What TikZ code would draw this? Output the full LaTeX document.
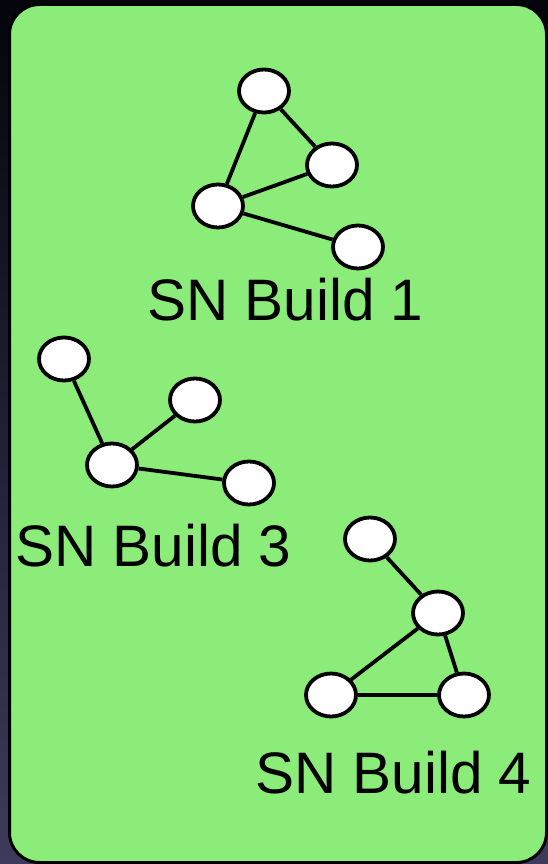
\documentclass[tikz,border=0pt]{standalone}
\usepackage{fontspec}
\setmainfont{Liberation Sans}
\usetikzlibrary{shapes.geometric}
\definecolor{boxgreen}{RGB}{140,236,122}
\definecolor{bgtop}{RGB}{4,4,12}
\definecolor{bgbot}{RGB}{62,58,92}
\begin{document}
\begin{tikzpicture}[x=1pt,y=-1pt,
  vnode/.style={ellipse,draw=black,fill=white,line width=3.8pt,minimum width=50pt,minimum height=43pt,inner sep=0pt},
  link/.style={draw=black,line width=3.8pt},
  lbl/.style={anchor=base west,inner sep=0pt,font=\fontsize{58.5}{62}\selectfont}]
\useasboundingbox (0,0) rectangle (548,864);
\shade[top color=bgtop,bottom color=bgbot] (0,0) rectangle (548,864);
\draw[fill=boxgreen,line width=3pt,rounded corners=30pt] (9.5,4.5) rectangle (546.5,862.5);
% graph 1
\node[vnode] (a1) at (264,91) {};
\node[vnode] (a2) at (332,165) {};
\node[vnode] (a3) at (218,206) {};
\node[vnode] (a4) at (358,247) {};
\path[link] (a1) -- (a3) (a1) -- (a2) (a3) -- (a2) (a3) -- (a4);
\node[lbl] (l1) at (147,320) {SN Build 1};
% graph 3
\node[vnode] (b1) at (64,359) {};
\node[vnode] (b2) at (195,400) {};
\node[vnode] (b3) at (112,465) {};
\node[vnode] (b4) at (249,483) {};
\path[link] (b3) -- (b1) (b3) -- (b2) (b3) -- (b4);
\node[lbl] (l3) at (15,566) {SN Build 3};
% graph 4
\node[vnode] (c1) at (370,539) {};
\node[vnode] (c2) at (438,613) {};
\node[vnode] (c3) at (331,695) {};
\node[vnode] (c4) at (464,695) {};
\path[link] (c1) -- (c2) (c2) -- (c3) (c2) -- (c4) (c3) -- (c4);
\node[lbl] (l4) at (255,793) {SN Build 4};
\end{tikzpicture}
\end{document}
